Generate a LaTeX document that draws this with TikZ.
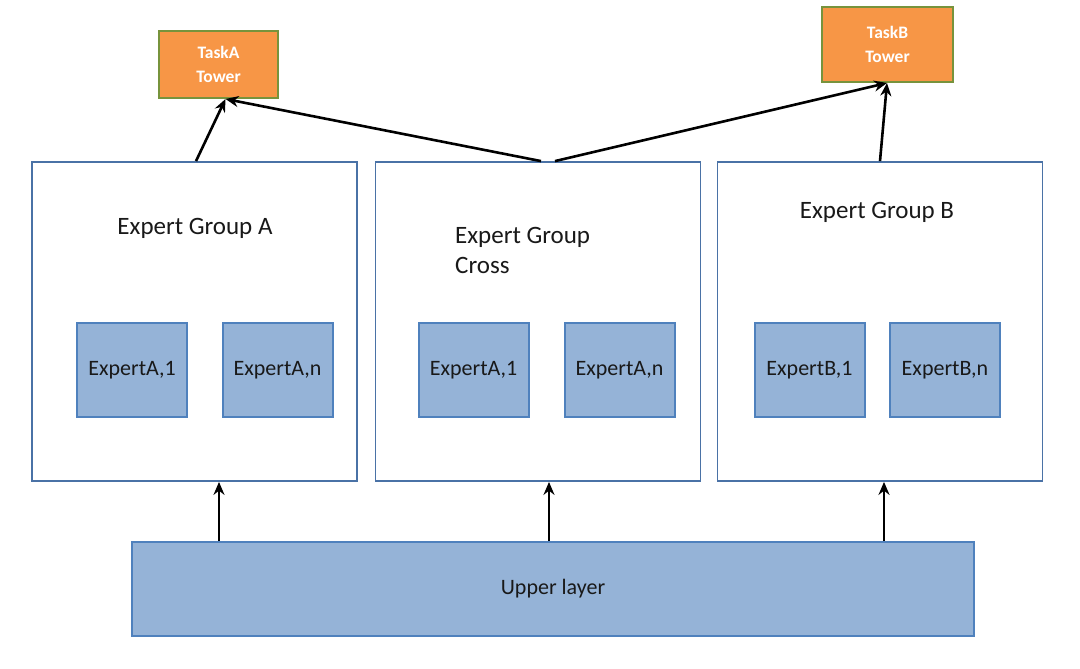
\documentclass[tikz,border=0pt]{standalone}
\usepackage{fontspec}
\setmainfont{Carlito}
\usetikzlibrary{arrows.meta}
\definecolor{grpborder}{HTML}{4A72A6}
\definecolor{expfill}{HTML}{95B3D7}
\definecolor{expborder}{HTML}{4F81BD}
\definecolor{orangefill}{HTML}{F79646}
\definecolor{greenborder}{HTML}{77933C}
\tikzset{
  group/.style={draw=grpborder, line width=1.8pt, fill=white, minimum width=325pt, minimum height=319pt, inner sep=0pt},
  expert/.style={draw=expborder, line width=2pt, fill=expfill, minimum width=110pt, minimum height=94pt, inner sep=0pt, font=\fontsize{22}{26}\selectfont, text=black!90},
  tower/.style={draw=greenborder, line width=2pt, fill=orangefill, inner sep=0pt, text=white, font=\bfseries\fontsize{17.5}{24}\selectfont, align=center},
  upper/.style={draw=expborder, line width=2pt, fill=expfill, minimum width=842pt, minimum height=94pt, inner sep=0pt, font=\fontsize{22}{26}\selectfont, text=black!90},
  glabel/.style={font=\fontsize{25}{30}\selectfont, text=black!90, inner sep=0pt},
  arr/.style={-{Stealth[length=13pt,width=11pt]}, line width=2.6pt, black}
}
\begin{document}
\begin{tikzpicture}[x=1pt,y=-1pt]
\useasboundingbox (0,0) rectangle (1080,669);
% groups
\node[group] (gA) at (194.5,321.5) {};
\node[group] (gC) at (538,321.5) {};
\node[group] (gB) at (880,321.5) {};
% group labels
\node[glabel] (lA) at (195,228) {Expert Group A};
\node[glabel, anchor=west, align=left] (lC) at (455,250) {Expert Group\\Cross};
\node[glabel] (lB) at (877,212) {Expert Group B};
% experts
\node[expert] (a1) at (132,370) {ExpertA,1};
\node[expert] (an) at (277.5,370) {ExpertA,n};
\node[expert] (c1) at (473.5,370) {ExpertA,1};
\node[expert] (cn) at (619.5,370) {ExpertA,n};
\node[expert] (b1) at (809.5,370) {ExpertB,1};
\node[expert] (bn) at (945,370) {ExpertB,n};
% towers
\node[tower, minimum width=119pt, minimum height=67pt] (tA) at (218.5,64.5) {TaskA\\Tower};
\node[tower, minimum width=131pt, minimum height=75pt] (tB) at (887.5,44.5) {TaskB\\Tower};
% upper layer
\node[upper] (up) at (553,589) {Upper layer};
% arrows from upper layer
\draw[arr] ([xshift=-334pt]up.north) -- ([xshift=-334pt]up.north |- gA.south);
\draw[arr] ([xshift=-4pt]up.north) -- ([xshift=-4pt]up.north |- gC.south);
\draw[arr] ([xshift=331pt]up.north) -- ([xshift=331pt]up.north |- gB.south);
% arrows to towers
\draw[arr] ([xshift=1.5pt]gA.north) -- ([xshift=7pt]tA.south);
\draw[arr] ([xshift=3pt]gC.north) -- ([xshift=7pt]tA.south);
\draw[arr] ([xshift=17pt]gC.north) -- ([xshift=-0.5pt]tB.south);
\draw[arr] (gB.north) -- ([xshift=-0.5pt]tB.south);
\end{tikzpicture}
\end{document}
